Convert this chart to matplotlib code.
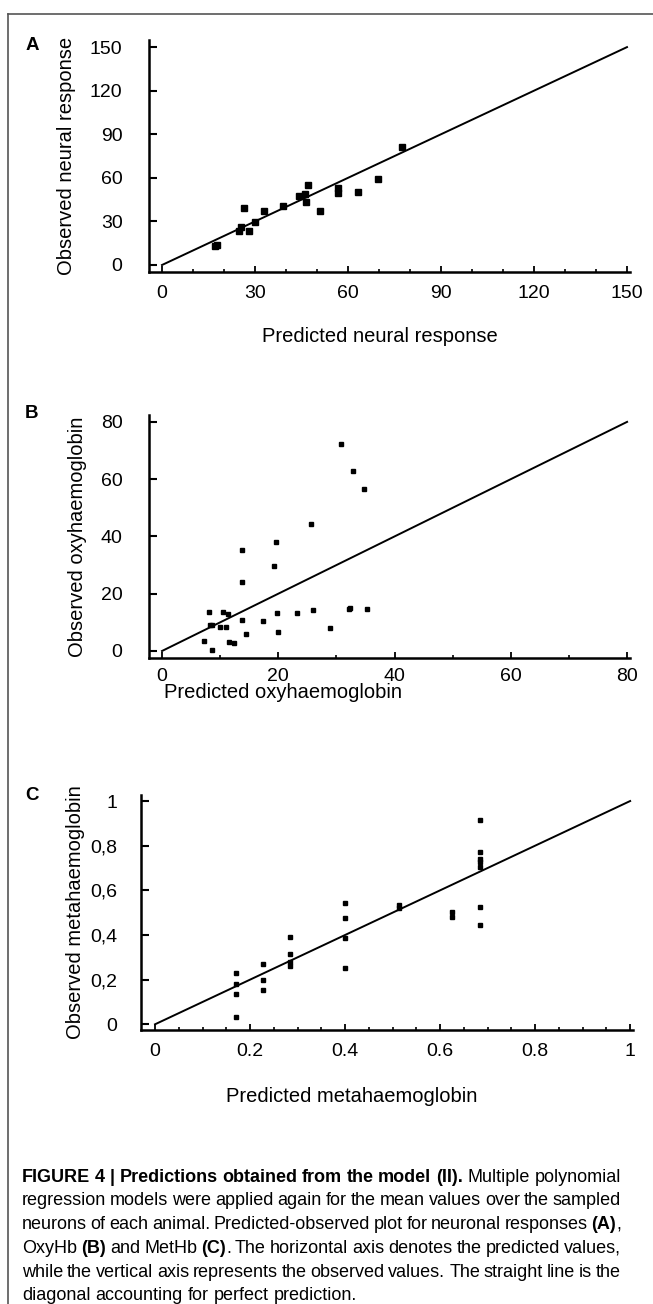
import numpy as np
import matplotlib
matplotlib.use("Agg")
import matplotlib.pyplot as plt
from matplotlib.lines import Line2D

plt.rcParams['font.family'] = ['Liberation Sans', 'DejaVu Sans']

# ---- data ----
# panel A: neural response
a_pred = [77.3, 69.8, 63.3, 56.9, 56.9, 51.0, 47.0, 46.4, 46.0, 44.1,
          39.1, 33.0, 30.1, 28.1, 26.5, 25.6, 24.9, 17.2, 17.6]
a_obs = [81.0, 59.2, 50.2, 53.2, 49.6, 37.0, 54.9, 43.2, 48.7, 47.5,
         40.4, 37.0, 29.6, 23.2, 39.4, 26.2, 23.2, 13.1, 14.0]

# panel B: oxyhaemoglobin
b_pred = [30.8, 32.9, 34.8, 25.7, 19.6, 13.7, 19.3, 13.7, 8.1, 10.5,
          11.4, 19.8, 23.3, 26.0, 32.1, 32.4, 35.2, 13.7, 17.4, 8.2,
          8.6, 10.0, 11.0, 28.9, 7.2, 8.6, 11.5, 12.4, 14.5, 20.0]
b_obs = [72.4, 63.0, 56.7, 44.3, 38.1, 35.2, 29.5, 24.1, 13.7, 13.7,
         12.9, 13.2, 13.2, 14.2, 14.6, 15.1, 14.6, 10.8, 10.3, 9.0,
         9.0, 8.5, 8.5, 7.9, 3.5, 0.4, 3.1, 2.8, 5.9, 6.5]

# panel C: metahaemoglobin
c_pred = [0.683, 0.683, 0.683, 0.683, 0.683, 0.683, 0.683,
          0.626, 0.626, 0.514, 0.514,
          0.399, 0.399, 0.399, 0.399,
          0.285, 0.285, 0.285, 0.285,
          0.227, 0.227, 0.227,
          0.170, 0.170, 0.170, 0.170]
c_obs = [0.915, 0.770, 0.741, 0.729, 0.704, 0.525, 0.444,
         0.505, 0.481, 0.535, 0.520,
         0.543, 0.475, 0.386, 0.254,
         0.391, 0.314, 0.278, 0.260,
         0.272, 0.200, 0.152,
         0.230, 0.181, 0.135, 0.033]

a_ticks = [0, 30, 60, 90, 120, 150]
b_ticks = [0, 20, 40, 60, 80]
c_ticks = [0, 0.2, 0.4, 0.6, 0.8, 1]
c_ylabels = ['0', '0,2', '0,4', '0,6', '0,8', '1']
c_xlabels = ['0', '0.2', '0.4', '0.6', '0.8', '1']

W, H = 653, 1304
fig = plt.figure(figsize=(W / 100, H / 100), dpi=100)


def px_axes(l, t, r, b):
    return fig.add_axes([l / W, 1 - b / H, (r - l) / W, (b - t) / H])


def style(ax, ypad, xpad):
    for s in ['top', 'right']:
        ax.spines[s].set_visible(False)
    for s in ['left', 'bottom']:
        ax.spines[s].set_linewidth(1.8)
    ax.tick_params(axis='y', which='major', direction='in', length=6,
                   width=1.5, pad=ypad, labelsize=14)
    ax.tick_params(axis='x', which='major', direction='in', length=4,
                   width=1.3, pad=xpad, labelsize=14)
    ax.tick_params(axis='x', which='minor', direction='in', length=2.5,
                   width=1.2)


def px_text(x, y, s, **kw):
    fig.text(x / W, 1 - y / H, s, ha='center', va='center', **kw)


# panel A
axA = px_axes(149, 40, 630, 272)
axA.plot([0, 150], [0, 150], color='black', lw=1.4)
axA.plot(a_pred, a_obs, 's', color='black', ms=4)
axA.set_xlim(-4.19, 150.97)
axA.set_ylim(-4.82, 154.9)
axA.set_xticks(a_ticks)
axA.set_yticks(a_ticks)
axA.set_xticks(np.arange(0, 151, 10), minor=True)
style(axA, 19, 9)
axA.set_ylabel('Observed neural response', fontsize=14.5, labelpad=10)
px_text(380, 337, 'Predicted neural response', fontsize=14.5)

# panel B
axB = px_axes(149, 415, 630, 658)
axB.plot([0, 80], [0, 80], color='black', lw=1.4)
axB.plot(b_pred, b_obs, 's', color='black', ms=3.5)
axB.set_xlim(-2.24, 80.5)
axB.set_ylim(-2.45, 82.4)
axB.set_xticks(b_ticks)
axB.set_yticks(b_ticks)
axB.set_xticks(np.arange(0, 81, 10), minor=True)
style(axB, 19, 7)
axB.set_ylabel('Observed oxyhaemoglobin', fontsize=14.5, labelpad=10)
px_text(283, 693, 'Predicted oxyhaemoglobin', fontsize=14.5)

# panel C
axC = px_axes(141, 795, 633, 1030)
axC.plot([0, 1], [0, 1], color='black', lw=1.4)
axC.plot(c_pred, c_obs, 's', color='black', ms=3.5)
axC.set_xlim(-0.0295, 1.006)
axC.set_ylim(-0.0255, 1.027)
axC.set_xticks(c_ticks)
axC.set_xticklabels(c_xlabels)
axC.set_yticks(c_ticks)
axC.set_yticklabels(c_ylabels)
axC.set_xticks(np.arange(0, 1.001, 0.05), minor=True)
style(axC, 17, 9)
axC.set_ylabel('Observed metahaemoglobin', fontsize=14.5, labelpad=4)
px_text(352, 1097, 'Predicted metahaemoglobin', fontsize=14.5)

for lab, y in [('A', 45), ('B', 413), ('C', 795)]:
    px_text(32, y, lab, fontsize=13.5, fontweight='bold')

# frame around the figure
fig.add_artist(Line2D([8 / W, 1], [1 - 14 / H] * 2, color='#555555', lw=1.2))
fig.add_artist(Line2D([8 / W] * 2, [0, 1 - 14 / H], color='#555555', lw=1.2))

# caption, justified
cap_fam = ['Liberation Sans Narrow', 'Liberation Sans', 'DejaVu Sans']
cap_size = 13


def words(s, bold=False):
    return [[(w, bold)] for w in s.split()]


cap_lines = [
    words('FIGURE 4 | Predictions obtained from the model (II).', True)
    + words('Multiple polynomial'),
    words('regression models were applied again for the mean values over the sampled'),
    words('neurons of each animal. Predicted-observed plot for neuronal responses')
    + [[('(A)', True), (',', False)]],
    words('OxyHb') + [[('(B)', True)]] + words('and MetHb')
    + [[('(C)', True), ('.', False)]]
    + words('The horizontal axis denotes the predicted values,'),
    words('while the vertical axis represents the observed values. The straight line is the'),
    words('diagonal accounting for perfect prediction.'),
]

renderer = fig.canvas.get_renderer()


def tw(s, bold):
    t = fig.text(0, 0, s, fontsize=cap_size, family=cap_fam,
                 fontweight='bold' if bold else 'normal')
    w = t.get_window_extent(renderer).width
    t.remove()
    return w


space = tw('x x', False) - tw('xx', False)
x_left, x_right = 22, 621
y0, dy = 1177, 23.8
for i, line in enumerate(cap_lines):
    wlist = [[tw(s, b) for s, b in wd] for wd in line]
    total = sum(sum(w) for w in wlist)
    gaps = len(line) - 1
    if i < len(cap_lines) - 1:
        gap = max((x_right - x_left - total) / gaps, space * 0.6)
    else:
        gap = space
    x = x_left
    y = y0 + i * dy
    for wd, ws in zip(line, wlist):
        for (s, b), w in zip(wd, ws):
            fig.text(x / W, 1 - y / H, s, fontsize=cap_size, family=cap_fam,
                     fontweight='bold' if b else 'normal', va='center')
            x += w
        x += gap

fig.savefig('out.png', dpi=100)
